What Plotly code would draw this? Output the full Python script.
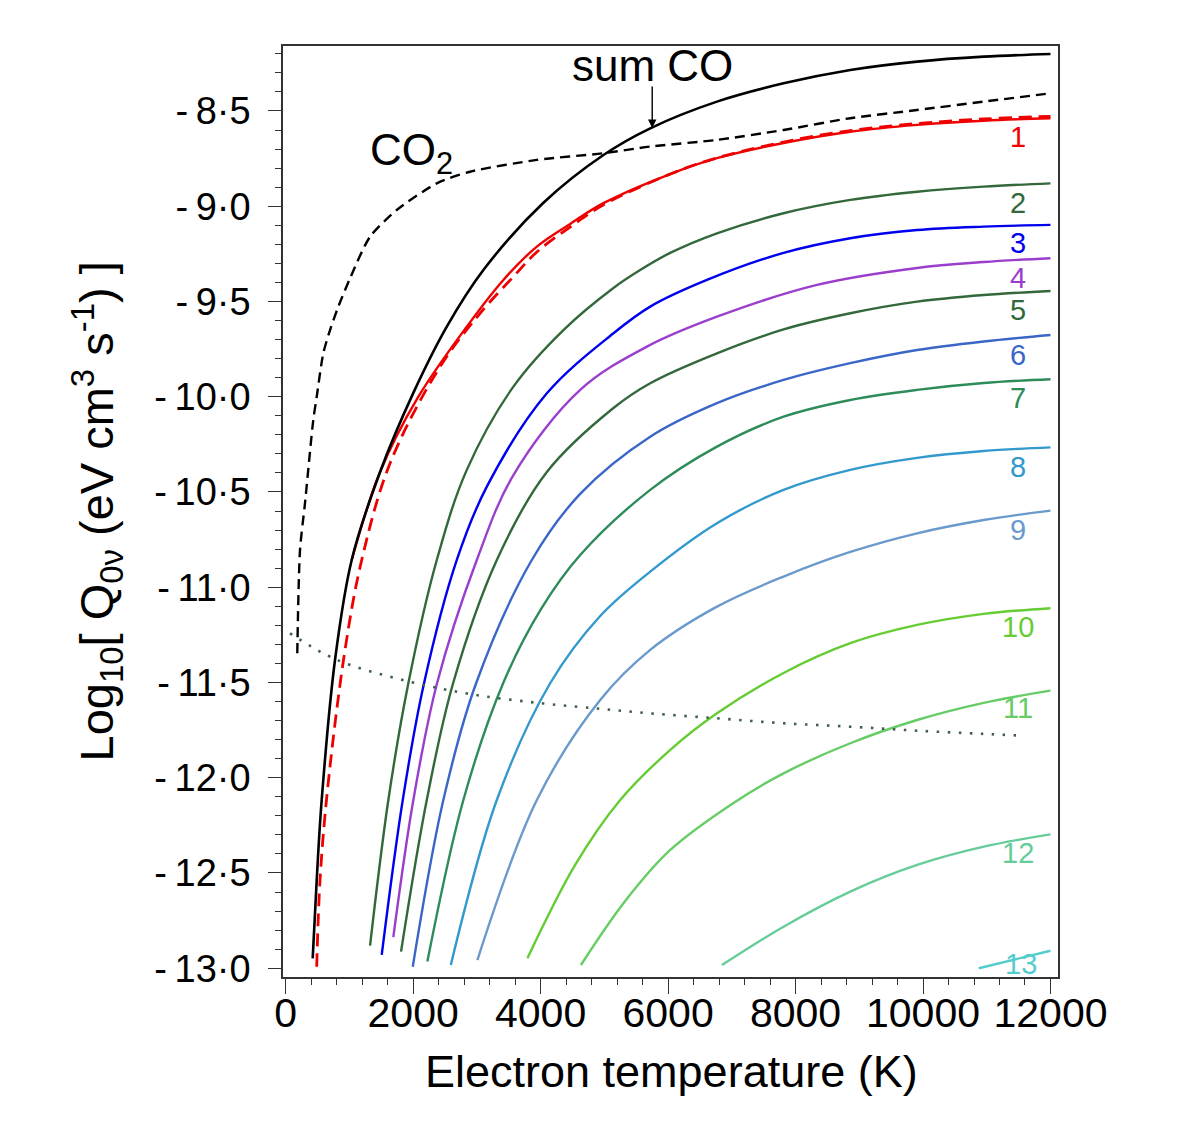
import plotly.graph_objects as go

# ---------------- data ----------------
# Sum CO (black solid)
T_SUM = [424, 487, 565, 774, 1036, 1481, 2003, 2528, 3102, 4040, 4986, 5720, 6767, 7812, 8859, 9907, 10952, 12000]
Q_SUM = [-12.948, -12.537, -12.117, -11.382, -10.857, -10.395, -9.980, -9.632, -9.335, -8.983, -8.731, -8.591,
         -8.451, -8.355, -8.285, -8.241, -8.215, -8.201]

# CO2 (black dashed)
T_CO2 = [182, 225, 303, 433, 487, 590, 696, 826, 1010, 1324, 1743, 2371, 2894, 3941, 4986, 5720, 6767, 7812,
         8859, 9907, 10952, 12000]
Q_CO2 = [-11.347, -10.804, -10.559, -10.122, -10.000, -9.772, -9.650, -9.527, -9.378, -9.160, -9.020, -8.880,
         -8.819, -8.757, -8.722, -8.687, -8.652, -8.600, -8.538, -8.495, -8.451, -8.407]

# v=1 (red solid) and its red dashed companion
T_V1 = [1036, 1481, 2082, 2842, 3416, 3941, 4464, 4986, 6034, 6767, 7812, 8859, 9907, 10952, 12000]
Q_V1 = [-10.857, -10.395, -10.000, -9.632, -9.387, -9.212, -9.093, -8.984, -8.831, -8.748, -8.668, -8.609,
        -8.573, -8.551, -8.538]
T_V1D = [487, 539, 656, 931, 1193, 1638, 2423, 3051, 3573, 3941, 4464, 4986, 6034, 6767, 7812, 8859, 9907,
         10952, 12000]
Q_V1D = [-12.992, -12.537, -12.064, -11.329, -10.857, -10.349, -9.842, -9.562, -9.370, -9.240, -9.109, -8.993,
         -8.831, -8.746, -8.663, -8.603, -8.566, -8.542, -8.528]

# v=2 .. v=13
T_V2 = [1324, 1611, 1925, 2371, 2842, 3573, 4358, 5143, 5562, 6033, 6767, 7812, 8859, 9907, 10952, 12000]
Q_V2 = [-12.881, -12.117, -11.504, -10.857, -10.384, -9.947, -9.650, -9.429, -9.335, -9.245, -9.142, -9.037,
        -8.967, -8.924, -8.897, -8.880]
T_V3 = [1507, 1837, 2171, 2685, 3156, 4098, 5143, 5720, 6610, 7812, 8859, 9907, 10952, 12000]
Q_V3 = [-12.930, -12.117, -11.504, -10.857, -10.472, -9.982, -9.667, -9.527, -9.387, -9.245, -9.168, -9.125,
        -9.107, -9.098]
T_V4 = [1689, 2003, 2375, 2999, 3573, 4621, 5668, 6767, 8337, 9907, 10952, 12000]
Q_V4 = [-12.837, -12.117, -11.504, -10.857, -10.411, -9.964, -9.737, -9.580, -9.413, -9.324, -9.293, -9.273]
T_V5 = [1810, 2214, 2627, 3313, 4098, 5143, 5720, 6767, 7812, 8859, 9907, 10952, 12000]
Q_V5 = [-12.913, -12.117, -11.504, -10.857, -10.395, -10.059, -9.929, -9.772, -9.647, -9.562, -9.501, -9.466, -9.445]
T_V6 = [1994, 2474, 2988, 3862, 4621, 5720, 6767, 7812, 8859, 9907, 10952, 12000]
Q_V6 = [-12.992, -12.117, -11.504, -10.857, -10.510, -10.210, -10.034, -9.912, -9.824, -9.755, -9.710, -9.676]
T_V7 = [2223, 2788, 3412, 4008, 4621, 5720, 6767, 7812, 8859, 9907, 10952, 12000]
Q_V7 = [-12.965, -12.117, -11.504, -11.114, -10.831, -10.489, -10.262, -10.105, -10.017, -9.964, -9.928, -9.908]
T_V8 = [2591, 3313, 4150, 4935, 5720, 6767, 7812, 8859, 9907, 10952, 12000]
Q_V8 = [-12.983, -12.117, -11.504, -11.151, -10.918, -10.664, -10.489, -10.384, -10.321, -10.285, -10.266]
T_V9 = [3008, 3941, 4935, 5720, 6767, 7812, 8859, 9907, 10952, 12000]
Q_V9 = [-12.957, -12.117, -11.592, -11.329, -11.102, -10.944, -10.815, -10.717, -10.647, -10.598]
T_V10 = [3793, 4542, 5249, 6034, 6767, 7812, 8859, 9907, 10952, 12000]
Q_V10 = [-12.948, -12.458, -12.117, -11.854, -11.662, -11.450, -11.294, -11.198, -11.140, -11.110]
T_V11 = [4632, 5327, 6034, 7027, 7812, 8859, 9907, 10952, 12000]
Q_V11 = [-12.983, -12.647, -12.379, -12.132, -11.977, -11.819, -11.697, -11.607, -11.543]
T_V12 = [6845, 7812, 8859, 9907, 10952, 12000]
Q_V12 = [-12.983, -12.782, -12.598, -12.458, -12.362, -12.297]
T_V13 = [10874, 12000]
Q_V13 = [-13.000, -12.908]

# dotted line
T_DOT = [68, 796, 1948, 2995, 4041, 4984, 5717, 6764, 7811, 8858, 9906, 10952, 11555]
Q_DOT = [-11.242, -11.38, -11.496, -11.566, -11.61, -11.64, -11.662, -11.688, -11.714, -11.732, -11.753, -11.77, -11.779]

# level labels (v number, label T, label Q)
LEVEL_NAMES = ["1", "2", "3", "4", "5", "6", "7", "8", "9", "10", "11", "12", "13"]
LEVEL_LABEL_T = [11497, 11497, 11497, 11497, 11497, 11497, 11497, 11497, 11497, 11497, 11497, 11497, 11540]
LEVEL_LABEL_Q = [-8.636, -8.983, -9.193, -9.377, -9.545, -9.781, -10.007, -10.369, -10.70, -11.209, -11.635, -12.395, -12.98]
LEVEL_COLORS = ["#f00000", "#32683a", "#0000ee", "#9a3fcc", "#32683a", "#3a66c8",
                "#2e8b5a", "#3399cc", "#6a99cc", "#66cc33", "#66cc66", "#66cc99", "#55cccc"]

X_TICKS = [0, 2000, 4000, 6000, 8000, 10000, 12000]
X_TICK_TEXT = ["0", "2000", "4000", "6000", "8000", "10000", "12000"]
Y_TICKS = [-13.0, -12.5, -12.0, -11.5, -11.0, -10.5, -10.0, -9.5, -9.0, -8.5]
Y_TICK_TEXT = ["-\u200913\u00b70", "-\u200912\u00b75", "-\u200912\u00b70", "-\u200911\u00b75", "-\u200911\u00b70",
               "-\u200910\u00b75", "-\u200910\u00b70", "-\u20099\u00b75", "-\u20099\u00b70", "-\u20098\u00b75"]

# ---------------- figure ----------------
FONT = "Liberation Sans, Arial, Helvetica, sans-serif"
fig = go.Figure()

def add_line(x, y, color, width=2.4, dash=None, smoothing=1.0):
    fig.add_trace(go.Scatter(
        x=x, y=y, mode="lines",
        line=dict(color=color, width=width, dash=dash, shape="spline", smoothing=smoothing),
        hoverinfo="skip", showlegend=False))

level_series = [(T_V2, Q_V2), (T_V3, Q_V3), (T_V4, Q_V4), (T_V5, Q_V5), (T_V6, Q_V6),
                (T_V7, Q_V7), (T_V8, Q_V8), (T_V9, Q_V9), (T_V10, Q_V10), (T_V11, Q_V11),
                (T_V12, Q_V12), (T_V13, Q_V13)]
for (tx, qy), col in zip(level_series, LEVEL_COLORS[1:]):
    add_line(tx, qy, col, 2.4)

add_line(T_DOT, Q_DOT, "#3f5f4a", 2.6, "2.5px,8.5px")
add_line(T_V1, Q_V1, LEVEL_COLORS[0], 2.4)
add_line(T_V1D, Q_V1D, "#ee0000", 2.8, "13px,7px")
add_line(T_SUM, Q_SUM, "#000000", 2.6)
add_line(T_CO2, Q_CO2, "#000000", 2.4, "10px,6px", smoothing=0.7)

# plot area geometry in pixels (page has an 8px body margin)
L, T, PW, PH = 275, 38, 775, 931
FIG_W, FIG_H = 1184, 1130

def px_x(x):  # page px -> paper
    return (x - 8 - L) / PW

def px_y(y):
    return (T + PH - (y - 8)) / PH

annotations = []
for name, tx, qy, col in zip(LEVEL_NAMES, LEVEL_LABEL_T, LEVEL_LABEL_Q, LEVEL_COLORS):
    annotations.append(dict(x=tx, y=qy, xref="x", yref="y", text=name, showarrow=False,
                            font=dict(family=FONT, size=29, color=col),
                            xanchor="center", yanchor="middle"))

# "sum CO" label with arrow
annotations.append(dict(x=5751, y=-8.262, xref="x", yref="y", text="sum CO", showarrow=False,
                        font=dict(family=FONT, size=44, color="black"),
                        xanchor="center", yanchor="middle"))
annotations.append(dict(x=5751, y=-8.589, xref="x", yref="y", text="", showarrow=True,
                        ax=0, ay=-43, arrowhead=2, arrowsize=1.2, arrowwidth=1.4,
                        arrowcolor="black"))
# CO2 label
annotations.append(dict(x=px_x(368), y=px_y(153), xref="paper", yref="paper",
                        text="CO<sub>2</sub>", showarrow=False,
                        font=dict(family=FONT, size=44, color="black"),
                        xanchor="left", yanchor="middle"))
# axis titles
annotations.append(dict(x=px_x(671), y=px_y(1071), xref="paper", yref="paper",
                        text="Electron temperature (K)", showarrow=False,
                        font=dict(family=FONT, size=45, color="black"),
                        xanchor="center", yanchor="middle"))
annotations.append(dict(x=px_x(97), y=0.5, xref="paper", yref="paper",
                        text="Log<sub>10</sub>[ Q<sub>0\u03bd</sub> (eV cm<sup>3</sup> s<sup>-1</sup>) ]",
                        textangle=-90, showarrow=False,
                        font=dict(family=FONT, size=47, color="black"),
                        xanchor="center", yanchor="middle"))

axis_common = dict(showgrid=False, zeroline=False, showline=True, mirror=True,
                   linecolor="#333333", linewidth=1.5, ticks="outside",
                   tickcolor="#333333", tickwidth=1.3)

fig.update_layout(
    width=FIG_W, height=FIG_H, autosize=False,
    margin=dict(l=L, r=FIG_W - L - PW, t=T, b=FIG_H - T - PH, autoexpand=False),
    paper_bgcolor="white", plot_bgcolor="white",
    font=dict(family=FONT, color="black"),
    annotations=annotations,
    xaxis=dict(range=[-42, 12118], tickmode="array", tickvals=X_TICKS, ticktext=X_TICK_TEXT,
               ticklen=15, ticklabelstandoff=-16,
               tickfont=dict(family=FONT, size=41, color="black"),
               minor=dict(tickmode="linear", tick0=0, dtick=400, ticklen=6, ticks="outside",
                          tickcolor="#333333", tickwidth=1.1),
               **axis_common),
    yaxis=dict(range=[-13.046, -8.159], tickmode="array", tickvals=Y_TICKS, ticktext=Y_TICK_TEXT,
               ticklen=13, ticklabelstandoff=10,
               tickfont=dict(family=FONT, size=38, color="black"),
               minor=dict(tickmode="linear", tick0=0, dtick=0.1, ticklen=6, ticks="outside",
                          tickcolor="#333333", tickwidth=1.1),
               **axis_common),
)

fig.write_html("out.html")
